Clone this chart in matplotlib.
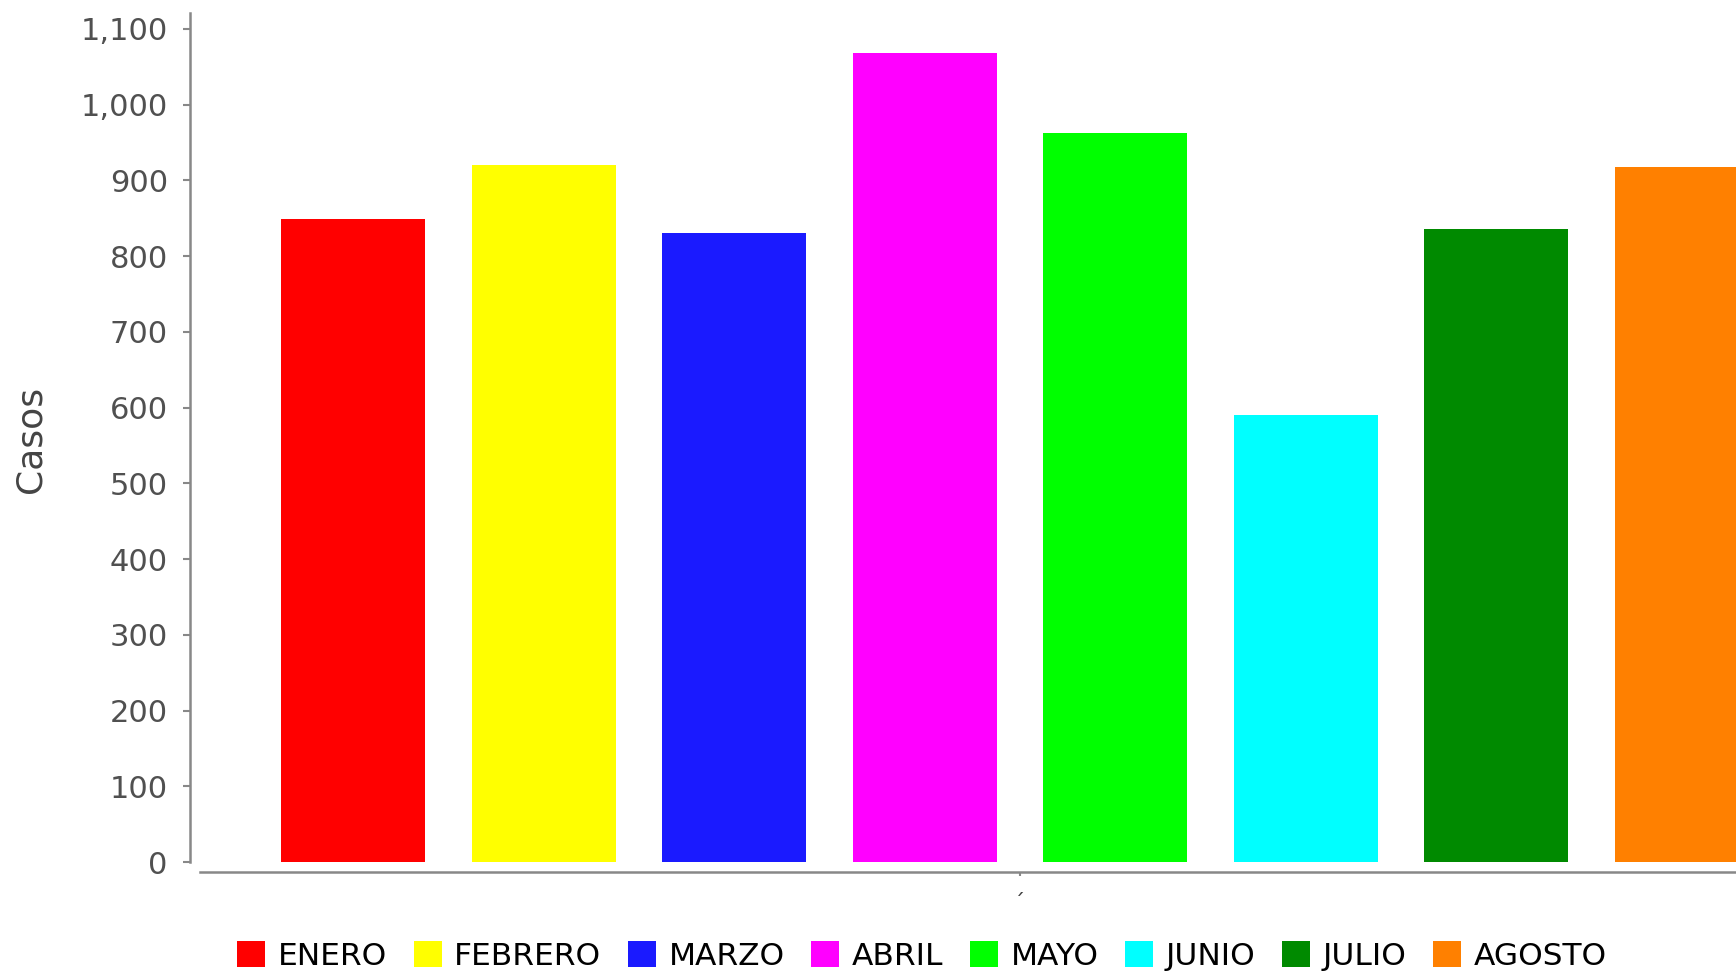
import matplotlib
matplotlib.use("Agg")
import matplotlib.pyplot as plt
from matplotlib.ticker import FuncFormatter

meses = ["ENERO", "FEBRERO", "MARZO", "ABRIL", "MAYO", "JUNIO", "JULIO", "AGOSTO"]
casos = [849, 920, 830, 1068, 963, 590, 836, 918]
colores = ["#ff0000", "#ffff00", "#1a1aff", "#ff00ff", "#00ff00", "#00ffff", "#008a00", "#ff8000"]
yticks = list(range(0, 1101, 100))

plt.rcParams["font.family"] = "DejaVu Sans"

W, H = 1736, 971
fig = plt.figure(figsize=(W / 100, H / 100), dpi=100)
# plot area goes past the right edge, like the cropped original
ax = fig.add_axes([200 / W, 109 / H, 1640 / W, 849 / H])

x = list(range(len(meses)))
bars = ax.bar(x, casos, width=0.755, color=colores, label=meses)

ax.set_xlim(-0.803, len(meses) - 1 + 0.803)
ax.set_ylim(0, 1121)
ax.set_yticks(yticks)
ax.yaxis.set_major_formatter(FuncFormatter(lambda v, p: f"{int(v):,}"))
ax.set_xticks([(len(meses) - 1) / 2])
ax.set_xticklabels(["´"])

for s in ["top", "right"]:
    ax.spines[s].set_visible(False)
ax.spines["left"].set_position(("outward", 7.2))
ax.spines["bottom"].set_position(("outward", 7.2))
for s in ["left", "bottom"]:
    ax.spines[s].set_color("#888888")
    ax.spines[s].set_linewidth(1.8)

ax.tick_params(axis="y", colors="#888888", labelcolor="#505050", labelsize=22,
               length=5, width=1.5, pad=11)
ax.tick_params(axis="x", colors="#888888", labelcolor="#444444", labelsize=16,
               length=3, width=1.5, pad=12)

ax.set_ylabel("Casos", fontsize=26, color="#444444")
ax.yaxis.set_label_coords(-152 / 1640, 0.5 + (862 - 439 - 424.5) / 849)

fig.legend(handles=list(bars), labels=meses, loc="center", ncol=len(meses),
           bbox_to_anchor=(922 / W, 15 / H), frameon=False, fontsize=22.5,
           handlelength=0.9, handleheight=0.9, handletextpad=0.4,
           columnspacing=0.85, borderaxespad=0)

fig.savefig("out.png", dpi=100)
